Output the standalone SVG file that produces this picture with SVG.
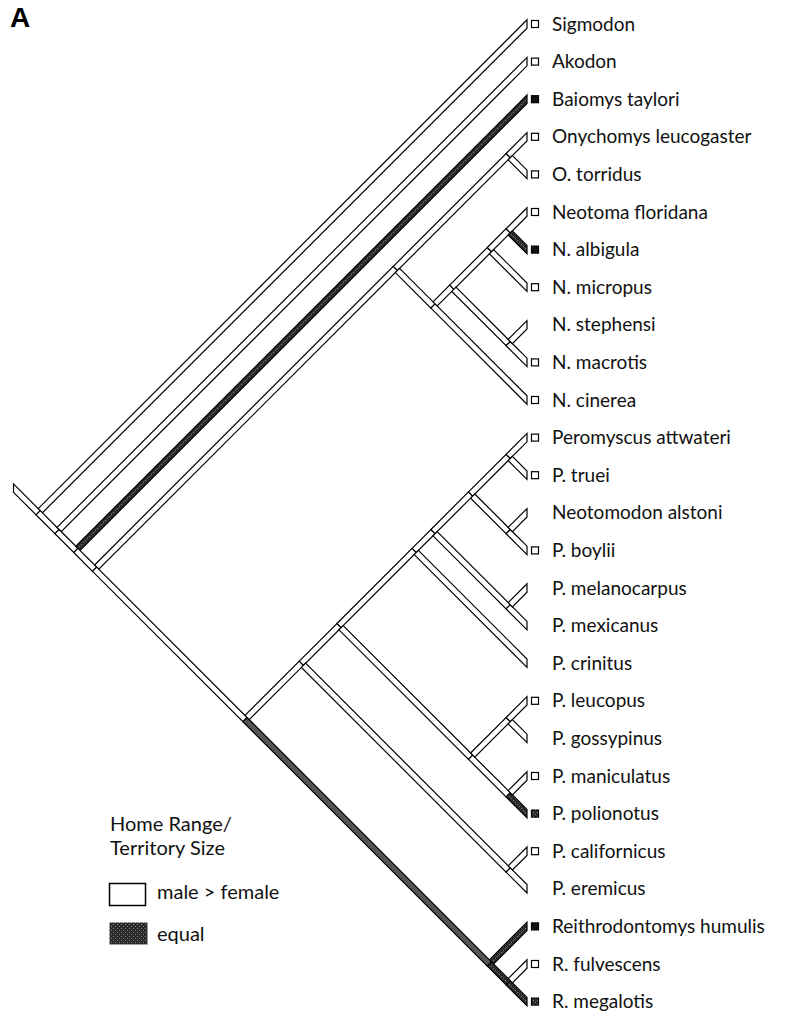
<svg xmlns="http://www.w3.org/2000/svg" width="785" height="1018" viewBox="0 0 785 1018">
<defs>
<pattern id="stip" width="4" height="4" patternUnits="userSpaceOnUse">
<rect width="4" height="4" fill="#2b2b2b"/>
<rect x="1" y="0" width="1" height="1" fill="#8a8a8a"/>
<rect x="3" y="2" width="1" height="1" fill="#7a7a7a"/>
</pattern>
<style>
.br{fill:#fff;stroke:#000;stroke-width:1.2;stroke-linejoin:miter}
.dk{fill:url(#stip);stroke:#000;stroke-width:1.2}
.md{fill:#555;stroke:#000;stroke-width:1.2}
.lb{font-family:Lato,"Open Sans","Liberation Sans",sans-serif;font-size:19px;fill:#111}
.lg{font-family:Lato,"Open Sans","Liberation Sans",sans-serif;font-size:20px;fill:#111}
.op{fill:#fff;stroke:#000;stroke-width:1.2}
.bk{fill:#111;stroke:#000;stroke-width:1.2}
.sp{fill:url(#stip);stroke:#000;stroke-width:1.2}
</style>
</defs>
<rect width="785" height="1018" fill="#fff"/>
<text x="10" y="27" font-family="'Liberation Sans',Arial,sans-serif" font-weight="bold" font-size="28" fill="#000">A</text>
<g id="connectors">
<polygon class="br" points="13.5,483.9 40.3,510.7 36.1,514.9 13.5,492.3"/>
<polygon class="br" points="38.2,508.6 527,19.8 527,28.2 42.4,512.8"/>
<polygon class="br" points="40.3,510.7 59.1,529.5 54.9,533.7 36.1,514.9"/>
<polygon class="br" points="57,527.4 527,57.4 527,65.8 61.2,531.6"/>
<polygon class="br" points="59.1,529.5 77.9,548.3 73.7,552.5 54.9,533.7"/>
<polygon class="dk" points="75.8,546.2 527,95 527,103.4 80,550.4"/>
<polygon class="br" points="77.9,548.3 96.7,567.1 92.5,571.3 73.7,552.5"/>
<polygon class="br" points="94.6,565 393.3,266.3 397.5,270.5 98.8,569.2"/>
<polygon class="br" points="96.7,567.1 247.1,717.5 242.9,721.7 92.5,571.3"/>
<polygon class="br" points="393.3,266.3 506.1,153.5 510.3,157.7 397.5,270.5"/>
<polygon class="br" points="506.1,153.5 527,132.6 527,141 510.3,157.7"/>
<polygon class="br" points="512.4,155.6 527,170.2 527,178.6 508.2,159.8"/>
<polygon class="br" points="399.6,268.4 435.1,303.9 430.9,308.1 395.4,272.6"/>
<polygon class="br" points="435.1,303.9 527,395.8 527,404.2 430.9,308.1"/>
<polygon class="br" points="433,301.8 449.7,285.1 453.9,289.3 437.2,306"/>
<polygon class="br" points="449.7,285.1 487.3,247.5 491.5,251.7 453.9,289.3"/>
<polygon class="br" points="487.3,247.5 506.1,228.7 510.3,232.9 491.5,251.7"/>
<polygon class="br" points="506.1,228.7 527,207.8 527,216.2 510.3,232.9"/>
<polygon class="dk" points="512.4,230.8 527,245.4 527,253.8 508.2,235"/>
<polygon class="br" points="493.6,249.6 527,283 527,291.4 489.4,253.8"/>
<polygon class="br" points="456,287.2 510.3,341.5 506.1,345.7 451.8,291.4"/>
<polygon class="br" points="510.3,341.5 527,358.2 527,366.6 506.1,345.7"/>
<polygon class="br" points="508.2,339.4 527,320.6 527,329 512.4,343.6"/>
<polygon class="md" points="247.1,717.5 491.5,961.9 487.3,966.1 242.9,721.7"/>
<polygon class="br" points="245,715.4 299.3,661.1 303.5,665.3 249.2,719.6"/>
<polygon class="br" points="299.3,661.1 336.9,623.5 341.1,627.7 303.5,665.3"/>
<polygon class="br" points="336.9,623.5 412.1,548.3 416.3,552.5 341.1,627.7"/>
<polygon class="br" points="412.1,548.3 430.9,529.5 435.1,533.7 416.3,552.5"/>
<polygon class="br" points="430.9,529.5 468.5,491.9 472.7,496.1 435.1,533.7"/>
<polygon class="br" points="468.5,491.9 506.1,454.3 510.3,458.5 472.7,496.1"/>
<polygon class="br" points="506.1,454.3 527,433.4 527,441.8 510.3,458.5"/>
<polygon class="br" points="512.4,456.4 527,471 527,479.4 508.2,460.6"/>
<polygon class="br" points="474.8,494 510.3,529.5 506.1,533.7 470.6,498.2"/>
<polygon class="br" points="510.3,529.5 527,546.2 527,554.6 506.1,533.7"/>
<polygon class="br" points="508.2,527.4 527,508.6 527,517 512.4,531.6"/>
<polygon class="br" points="437.2,531.6 510.3,604.7 506.1,608.9 433,535.8"/>
<polygon class="br" points="510.3,604.7 527,621.4 527,629.8 506.1,608.9"/>
<polygon class="br" points="508.2,602.6 527,583.8 527,592.2 512.4,606.8"/>
<polygon class="br" points="418.4,550.4 527,659 527,667.4 414.2,554.6"/>
<polygon class="br" points="343.2,625.6 472.7,755.1 468.5,759.3 339,629.8"/>
<polygon class="br" points="472.7,755.1 510.3,792.7 506.1,796.9 468.5,759.3"/>
<polygon class="dk" points="510.3,792.7 527,809.4 527,817.8 506.1,796.9"/>
<polygon class="br" points="508.2,790.6 527,771.8 527,780.2 512.4,794.8"/>
<polygon class="br" points="470.6,753 506.1,717.5 510.3,721.7 474.8,757.2"/>
<polygon class="br" points="506.1,717.5 527,696.6 527,705 510.3,721.7"/>
<polygon class="br" points="512.4,719.6 527,734.2 527,742.6 508.2,723.8"/>
<polygon class="br" points="305.6,663.2 510.3,867.9 506.1,872.1 301.4,667.4"/>
<polygon class="br" points="510.3,867.9 527,884.6 527,893 506.1,872.1"/>
<polygon class="br" points="508.2,865.8 527,847 527,855.4 512.4,870"/>
<polygon class="dk" points="491.5,961.9 510.3,980.7 506.1,984.9 487.3,966.1"/>
<polygon class="dk" points="510.3,980.7 527,997.4 527,1005.8 506.1,984.9"/>
<polygon class="br" points="508.2,978.6 527,959.8 527,968.2 512.4,982.8"/>
<polygon class="dk" points="489.4,959.8 527,922.2 527,930.6 493.6,964"/>
</g>
<g id="leaf-sigmodon"><rect class="op" x="531.5" y="20.5" width="7" height="7"/><text class="lb" x="552" y="30.5">Sigmodon</text></g>
<g id="leaf-akodon"><rect class="op" x="531.5" y="58.1" width="7" height="7"/><text class="lb" x="552" y="68.1">Akodon</text></g>
<g id="leaf-baiomys-taylori"><rect class="bk" x="531.5" y="95.7" width="7" height="7"/><text class="lb" x="552" y="105.7">Baiomys taylori</text></g>
<g id="leaf-onychomys-leucogaster"><rect class="op" x="531.5" y="133.3" width="7" height="7"/><text class="lb" x="552" y="143.3">Onychomys leucogaster</text></g>
<g id="leaf-o-torridus"><rect class="op" x="531.5" y="170.9" width="7" height="7"/><text class="lb" x="552" y="180.9">O. torridus</text></g>
<g id="leaf-neotoma-floridana"><rect class="op" x="531.5" y="208.5" width="7" height="7"/><text class="lb" x="552" y="218.5">Neotoma floridana</text></g>
<g id="leaf-n-albigula"><rect class="bk" x="531.5" y="246.1" width="7" height="7"/><text class="lb" x="552" y="256.1">N. albigula</text></g>
<g id="leaf-n-micropus"><rect class="op" x="531.5" y="283.7" width="7" height="7"/><text class="lb" x="552" y="293.7">N. micropus</text></g>
<g id="leaf-n-stephensi"><text class="lb" x="552" y="331.3">N. stephensi</text></g>
<g id="leaf-n-macrotis"><rect class="op" x="531.5" y="358.9" width="7" height="7"/><text class="lb" x="552" y="368.9">N. macrotis</text></g>
<g id="leaf-n-cinerea"><rect class="op" x="531.5" y="396.5" width="7" height="7"/><text class="lb" x="552" y="406.5">N. cinerea</text></g>
<g id="leaf-peromyscus-attwateri"><rect class="op" x="531.5" y="434.1" width="7" height="7"/><text class="lb" x="552" y="444.1">Peromyscus attwateri</text></g>
<g id="leaf-p-truei"><rect class="op" x="531.5" y="471.7" width="7" height="7"/><text class="lb" x="552" y="481.7">P. truei</text></g>
<g id="leaf-neotomodon-alstoni"><text class="lb" x="552" y="519.3">Neotomodon alstoni</text></g>
<g id="leaf-p-boylii"><rect class="op" x="531.5" y="546.9" width="7" height="7"/><text class="lb" x="552" y="556.9">P. boylii</text></g>
<g id="leaf-p-melanocarpus"><text class="lb" x="552" y="594.5">P. melanocarpus</text></g>
<g id="leaf-p-mexicanus"><text class="lb" x="552" y="632.1">P. mexicanus</text></g>
<g id="leaf-p-crinitus"><text class="lb" x="552" y="669.7">P. crinitus</text></g>
<g id="leaf-p-leucopus"><rect class="op" x="531.5" y="697.3" width="7" height="7"/><text class="lb" x="552" y="707.3">P. leucopus</text></g>
<g id="leaf-p-gossypinus"><text class="lb" x="552" y="744.9">P. gossypinus</text></g>
<g id="leaf-p-maniculatus"><rect class="op" x="531.5" y="772.5" width="7" height="7"/><text class="lb" x="552" y="782.5">P. maniculatus</text></g>
<g id="leaf-p-polionotus"><rect class="sp" x="531.5" y="810.1" width="7" height="7"/><text class="lb" x="552" y="820.1">P. polionotus</text></g>
<g id="leaf-p-californicus"><rect class="op" x="531.5" y="847.7" width="7" height="7"/><text class="lb" x="552" y="857.7">P. californicus</text></g>
<g id="leaf-p-eremicus"><text class="lb" x="552" y="895.3">P. eremicus</text></g>
<g id="leaf-reithrodontomys-humulis"><rect class="bk" x="531.5" y="922.9" width="7" height="7"/><text class="lb" x="552" y="932.9">Reithrodontomys humulis</text></g>
<g id="leaf-r-fulvescens"><rect class="op" x="531.5" y="960.5" width="7" height="7"/><text class="lb" x="552" y="970.5">R. fulvescens</text></g>
<g id="leaf-r-megalotis"><rect class="sp" x="531.5" y="998.1" width="7" height="7"/><text class="lb" x="552" y="1008.1">R. megalotis</text></g>
<g id="legend">
<text class="lg" x="110" y="831">Home Range/</text>
<text class="lg" x="110" y="854.5">Territory Size</text>
<rect x="109.5" y="883.5" width="36" height="22" fill="#fff" stroke="#000" stroke-width="1.5"/>
<text class="lg" x="157" y="898.5">male &gt; female</text>
<rect x="109.5" y="922.5" width="38" height="22" fill="url(#stip)"/>
<text class="lg" x="157" y="941">equal</text>
</g>
</svg>
